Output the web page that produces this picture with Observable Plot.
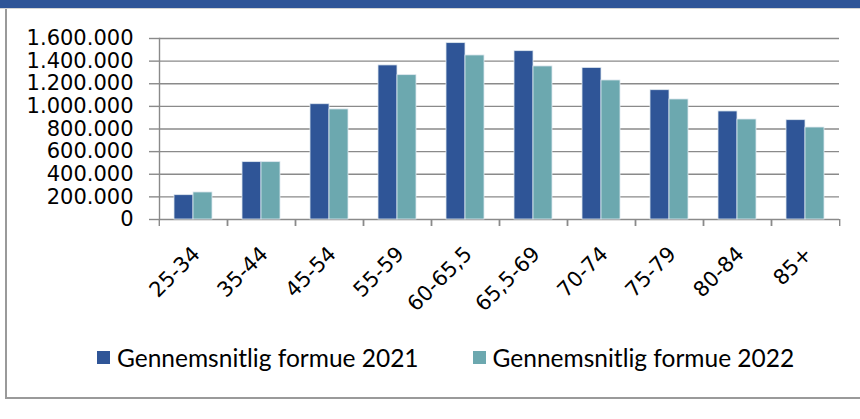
<!DOCTYPE html>
<html>
<head>
<meta charset="utf-8">
<script src="https://cdn.jsdelivr.net/npm/d3@7"></script>
<script src="https://cdn.jsdelivr.net/npm/@observablehq/plot@0.6"></script>
<style>
  html, body { margin: 0; padding: 0; background: #fff; }
  #wrap { position: relative; width: 860px; height: 419px; overflow: hidden; background: #fff; font-family: Lato, "Open Sans", sans-serif; }
  #topbar { position: absolute; left: 0; top: 0; width: 860px; height: 8px; background: #2F5597; }
  #topline { position: absolute; left: 0; top: 8px; width: 860px; height: 1px; background: #d4d4d4; }
  #leftline { position: absolute; left: 5px; top: 9px; width: 2px; height: 390px; background: #9a9a9a; }
  #bottomline { position: absolute; left: 5px; top: 397px; width: 855px; height: 2px; background: #9a9a9a; }
  #chart { position: absolute; left: 0; top: 0; }
  #legend { position: absolute; left: 97px; top: 344px; height: 26px; display: flex; align-items: center; font-size: 24.5px; color: #000; white-space: nowrap; }
  .item { display: flex; align-items: center; }
  .sw { width: 13px; height: 13px; margin-right: 7px; }
</style>
</head>
<body>
<div id="wrap">
  <div id="topbar"></div>
  <div id="topline"></div>
  <div id="leftline"></div>
  <div id="bottomline"></div>
  <div id="chart"></div>
  <div id="legend"></div>
</div>
<script>
const categories = ["25-34","35-44","45-54","55-59","60-65,5","65,5-69","70-74","75-79","80-84","85+"];
const seriesNames = ["Gennemsnitlig formue 2021", "Gennemsnitlig formue 2022"];
const seriesKeys = ["2021", "2022"];
const values2021 = [215000, 507000, 1019000, 1362000, 1559000, 1488000, 1340000, 1143000, 955000, 878000];
const values2022 = [239000, 507000, 973000, 1276000, 1450000, 1353000, 1229000, 1061000, 884000, 813000];
const yTicks = [0, 200000, 400000, 600000, 800000, 1000000, 1200000, 1400000, 1600000];
const colors = ["#2F5597", "#6CA8AF"];

const rows = [];
categories.forEach((c, i) => {
  rows.push({cat: c, series: seriesKeys[0], value: values2021[i]});
  rows.push({cat: c, series: seriesKeys[1], value: values2022[i]});
});

const W = 860, H = 335, ML = 157, MR = 19, MT = 38, MB = 116;
const bw = (W - ML - MR) / categories.length;
const fmt = d3.formatLocale({decimal: ",", thousands: ".", grouping: [3], currency: ["", ""]}).format(",d");
const grey = "#8a8a8a";
const axisFont = "'DejaVu Sans', Lato, sans-serif";

const chart = Plot.plot({
  width: W, height: H,
  marginLeft: ML, marginRight: MR, marginTop: MT, marginBottom: MB,
  style: {fontFamily: axisFont, background: "transparent", color: "#000"},
  fx: {domain: categories, padding: 0, axis: null, label: null},
  x: {domain: seriesKeys, paddingInner: 0, paddingOuter: 0.75, axis: null},
  y: {domain: [0, 1600000], axis: null},
  color: {domain: seriesKeys, range: colors},
  marks: [
    Plot.gridY(yTicks, {stroke: grey, strokeOpacity: 1, strokeWidth: 1.4}),
    Plot.barY(rows, {fx: "cat", x: "series", y: "value", fill: "series", stroke: "#dfe8ef", strokeWidth: 0.8}),
    Plot.frame({anchor: "left", facetAnchor: "left", stroke: grey, strokeWidth: 1.4}),
    Plot.axisY(yTicks, {tickFormat: fmt, tickSize: 10, tickPadding: 16, fontSize: 21, stroke: grey, strokeWidth: 1.4, fill: "#000", label: null}),
    Plot.axisFx({anchor: "bottom", tickSize: 7, tickFormat: () => "", dx: -bw / 2, stroke: grey, strokeWidth: 1.4, label: null}),
    Plot.axisFx({anchor: "bottom", tickSize: 7, tickFormat: () => "", dx: bw / 2, stroke: grey, strokeWidth: 1.4, label: null}),
    Plot.axisFx({anchor: "bottom", tickSize: 0, tickPadding: 31, tickRotate: -45, fontSize: 21, dx: 3, fill: "#000", label: null})
  ]
});
document.getElementById("chart").appendChild(chart);

const legend = document.getElementById("legend");
seriesNames.forEach((name, i) => {
  const item = document.createElement("div");
  item.className = "item";
  if (i > 0) item.style.marginLeft = "54px";
  const sw = document.createElement("div");
  sw.className = "sw";
  sw.style.background = colors[i];
  const t = document.createElement("span");
  t.textContent = name;
  item.appendChild(sw); item.appendChild(t);
  legend.appendChild(item);
});
</script>
</body>
</html>
